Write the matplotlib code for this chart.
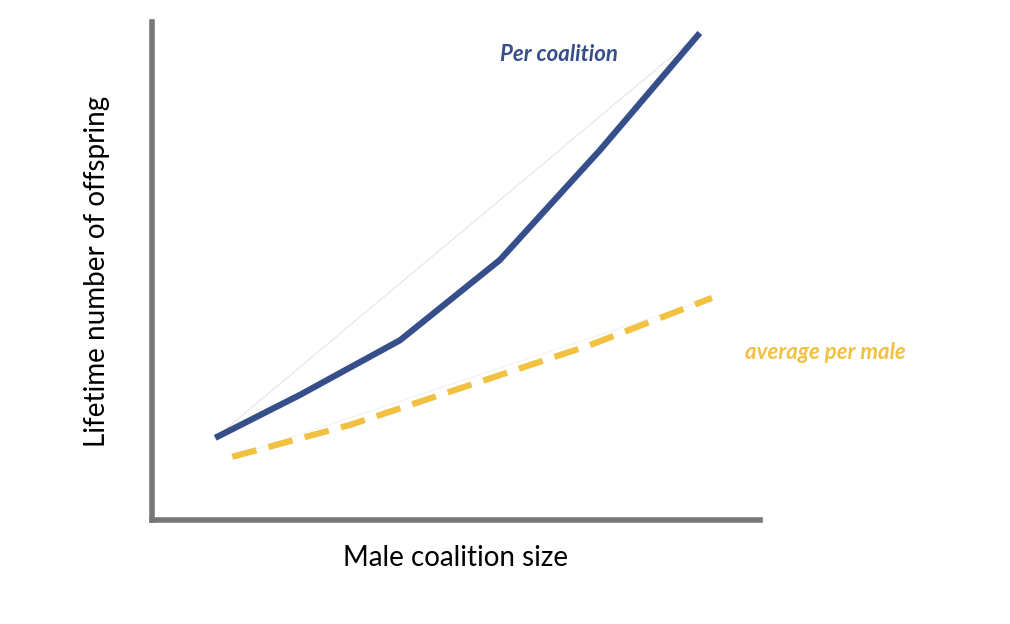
import matplotlib.pyplot as plt

plt.rcParams['font.family'] = ['Lato', 'DejaVu Sans']

# conceptual curves (arbitrary units, 0-10 on both axes)
coal_x = [1.04, 2.43, 4.08, 5.72, 7.37, 9.01]
coal_y = [1.65, 2.51, 3.61, 5.22, 7.43, 9.78]
male_x = [1.32, 3.26, 5.23, 7.20, 9.21]
male_y = [1.27, 1.91, 2.71, 3.51, 4.46]

blue = '#364f8b'
yellow = '#f1c141'

fig = plt.figure(figsize=(10.1, 6.24), dpi=100)
ax = fig.add_axes([152/1010, 104/624, 608/1010, 498/624])
ax.set_xlim(0, 10)
ax.set_ylim(0, 10)

# faint chords
ax.plot([coal_x[0], coal_x[-1]], [coal_y[0], coal_y[-1]], color='#dddddd', lw=0.6)
ax.plot([male_x[0], male_x[-1]], [male_y[0], male_y[-1]], color='#eeeeee', lw=0.6)

ax.plot(coal_x, coal_y, color=blue, lw=4.5, solid_capstyle='butt')
ax.plot(male_x, male_y, color=yellow, lw=4.5, dashes=(4, 2))

ax.text(6.7, 9.35, 'Per coalition', color=blue, fontsize=16,
        fontweight='bold', fontstyle='italic', ha='center', va='center')
ax.text(11.07, 3.37, 'average per male', color=yellow, fontsize=16,
        fontweight='bold', fontstyle='italic', ha='center', va='center',
        clip_on=False)

for s in ['top', 'right']:
    ax.spines[s].set_visible(False)
for s in ['left', 'bottom']:
    ax.spines[s].set_color('#777777')
    ax.spines[s].set_linewidth(4)
ax.set_xticks([])
ax.set_yticks([])

ax.set_xlabel('Male coalition size', fontsize=20, labelpad=18)
ax.set_ylabel('Lifetime number of offspring', fontsize=20, labelpad=30)

fig.savefig('out.png', dpi=100)
